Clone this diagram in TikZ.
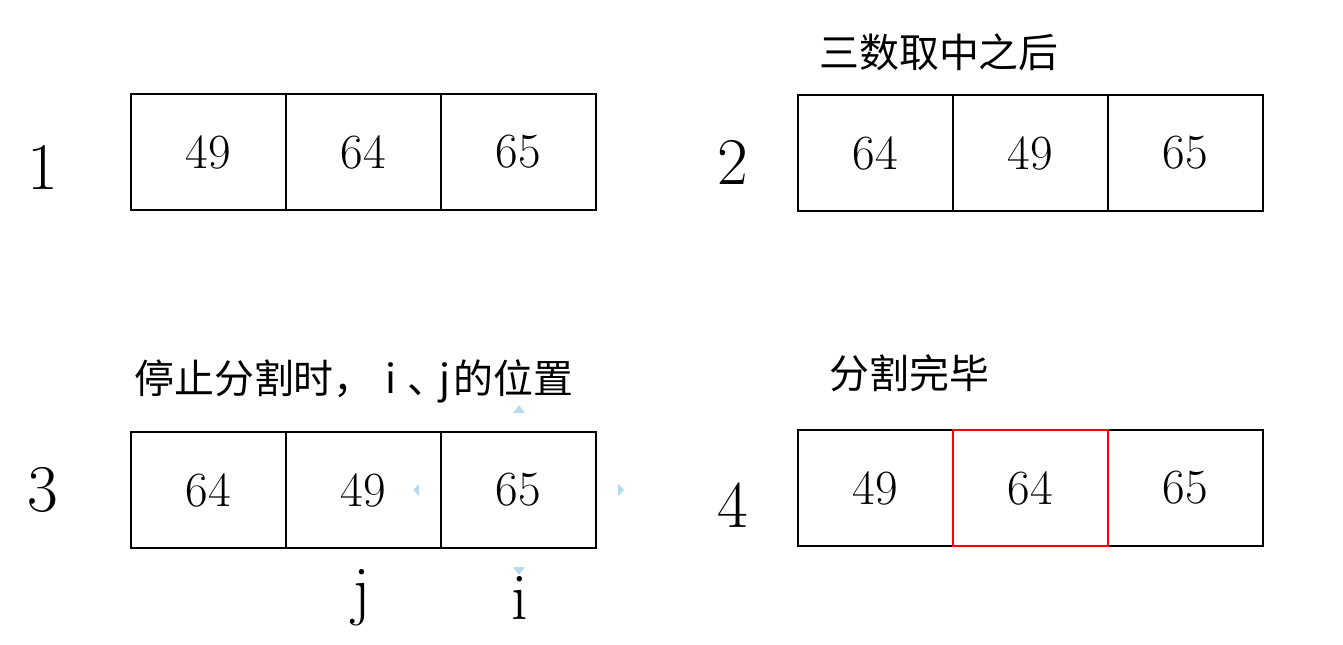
\documentclass[tikz,border=0pt]{standalone}
\usepackage{fontspec}
\newfontfamily\cjk{Noto Sans CJK SC}
\begin{document}
\begin{tikzpicture}[x=0.02cm,y=-0.02cm,
  cell/.style={draw=black,line width=0.9pt,minimum width=3.1cm,minimum height=2.32cm,inner sep=0pt,outer sep=0pt,font=\fontsize{28}{30}\selectfont},
  redcell/.style={cell,draw=red},
  lbl/.style={inner sep=0pt,font=\fontsize{38}{40}\selectfont},
  title/.style={inner sep=0pt,anchor=west,font=\cjk\fontsize{22.7}{26}\selectfont},
]
\definecolor{lightblue}{RGB}{182,220,236}
\useasboundingbox (0,0) rectangle (1343,645);
% panel 1
\node[cell] (a1) at (208.5,152) {49};
\node[cell] (a2) at (363.5,152) {64};
\node[cell] (a3) at (518.5,152) {65};
\node[lbl] (l1) at (43,167) {1};
% panel 2
\node[title] (t2) at (819,52) {三数取中之后};
\node[cell] (b1) at (875.5,153) {64};
\node[cell] (b2) at (1030.5,153) {49};
\node[cell] (b3) at (1185.5,153) {65};
\node[lbl] (l2) at (733,162) {2};
% panel 3
\node[title] (t3) at (134,381) {停止分割时，\makebox[0.85em]{i}\makebox[0.75em][l]{、}\makebox[0.4em]{j}的位置};
\node[cell] (c1) at (208.5,490) {64};
\node[cell] (c2) at (363.5,490) {49};
\node[cell] (c3) at (518.5,490) {65};
\node[lbl] (l3) at (43,490) {3};
\node[lbl] (lj) at (362,598) {j};
\node[lbl] (li) at (520,598) {i};
% selection handles
\fill[lightblue] (513,413) -- (525,413) -- (519,405) -- cycle;
\fill[lightblue] (513,567) -- (525,567) -- (519,575) -- cycle;
\fill[lightblue] (419,484) -- (419,496) -- (413,490) -- cycle;
\fill[lightblue] (618,484) -- (618,496) -- (624,490) -- cycle;
% panel 4
\node[title] (t4) at (829,373) {分割完毕};
\node[cell] (d1) at (875.5,488) {49};
\node[cell] (d3) at (1185.5,488) {65};
\node[redcell] (d2) at (1030.5,488) {64};
\node[lbl] (l4) at (733,505) {4};
\end{tikzpicture}
\end{document}
